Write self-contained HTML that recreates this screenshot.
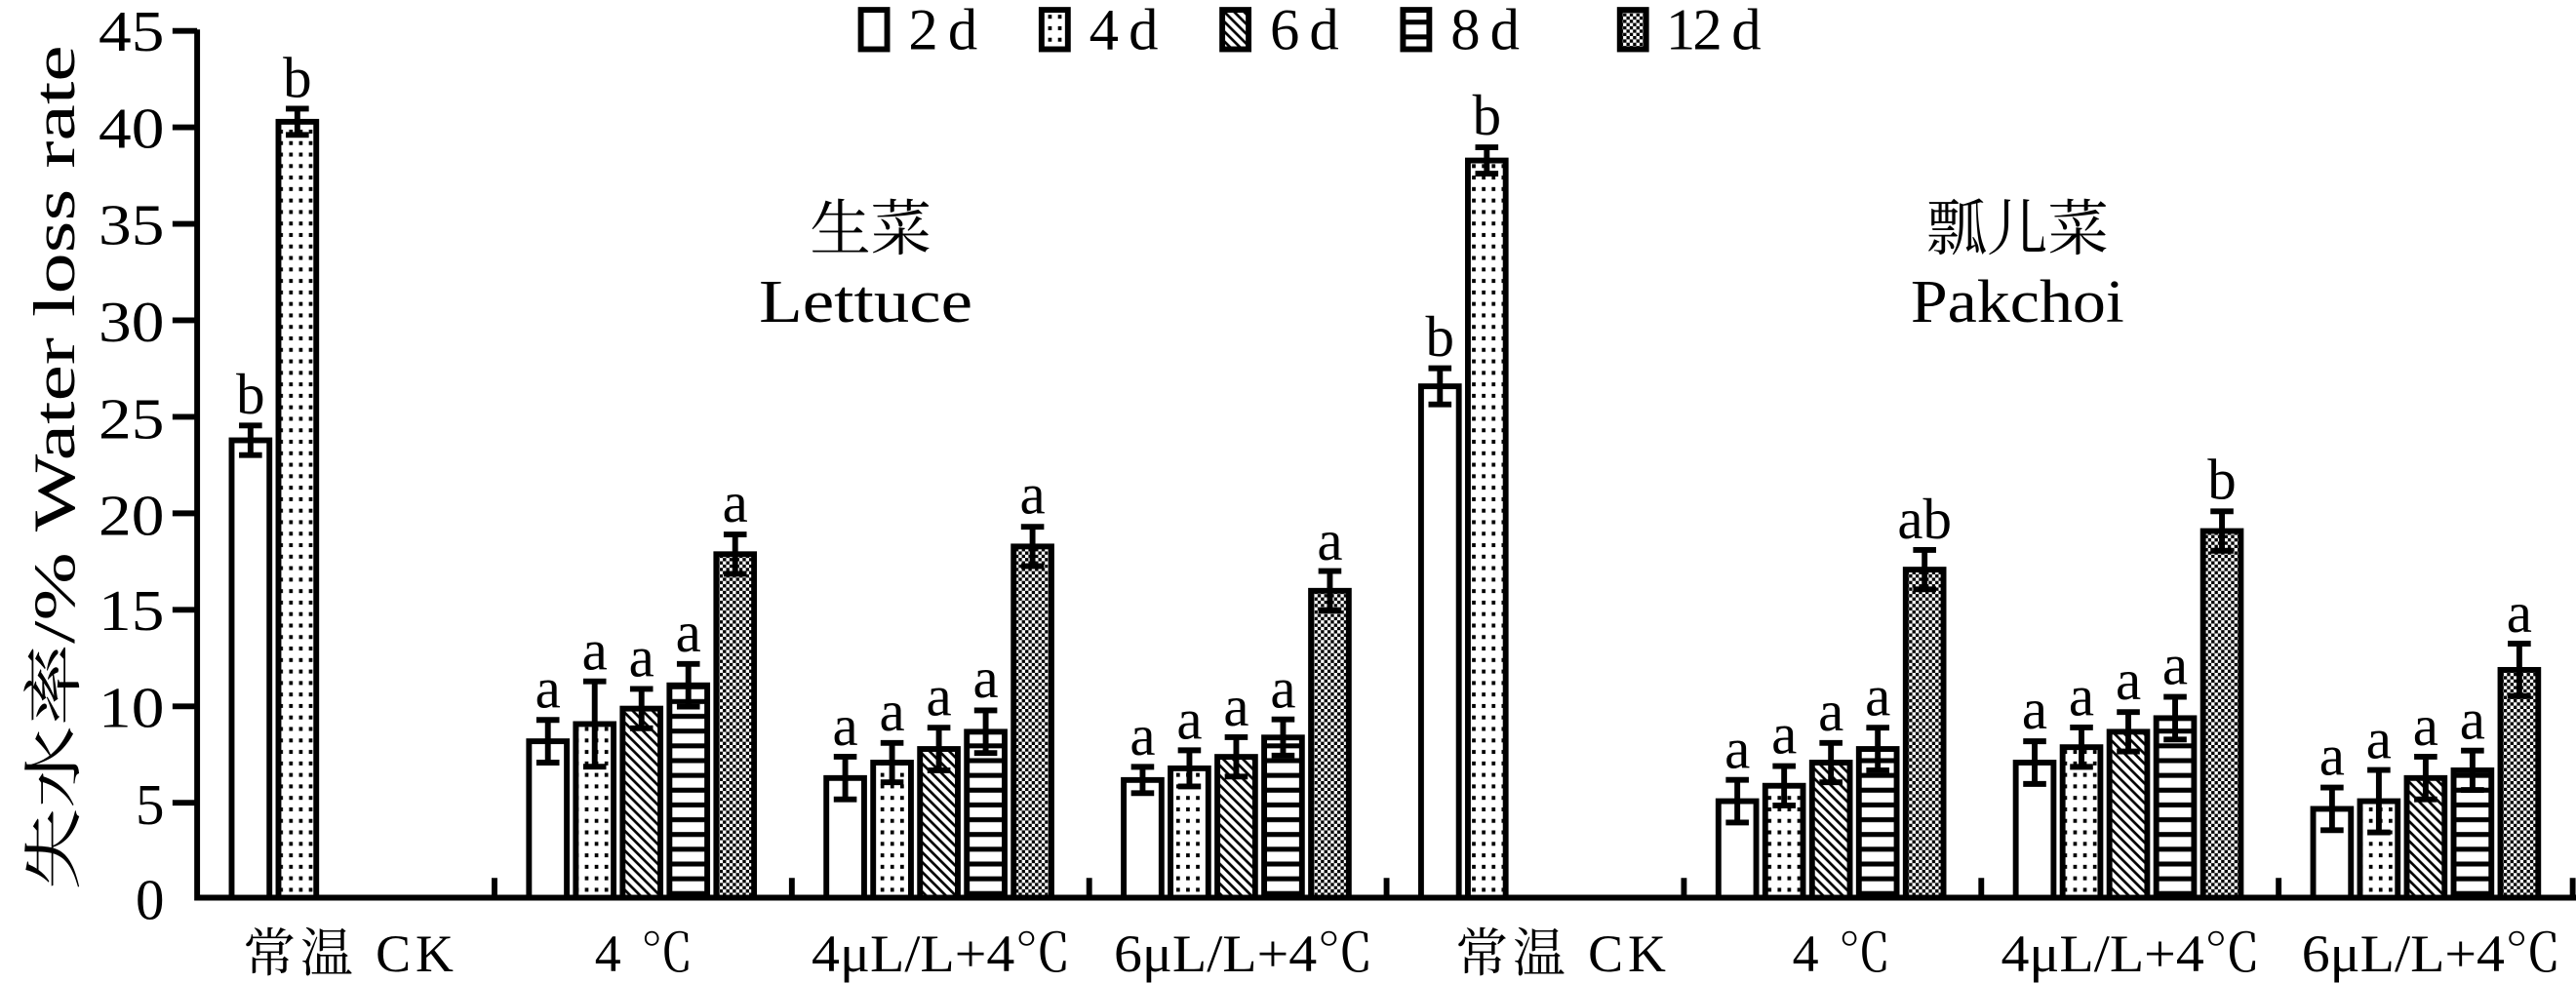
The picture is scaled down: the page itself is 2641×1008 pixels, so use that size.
<!DOCTYPE html>
<html><head><meta charset="utf-8"><style>
html,body{margin:0;padding:0;background:#fff;width:2641px;height:1008px;overflow:hidden}
svg{display:block}
text{font-family:"Liberation Serif","Noto Serif CJK SC","Noto Sans CJK SC",serif;fill:#000}
</style></head><body>
<svg width="2641" height="1008" viewBox="0 0 1568 599" preserveAspectRatio="none" xmlns="http://www.w3.org/2000/svg">
<defs>
<pattern id="dot" width="6" height="7" patternUnits="userSpaceOnUse"><rect width="6" height="7" fill="#fff"/><rect x="2" y="2" width="2.2" height="2.4" fill="#000"/></pattern>
<pattern id="dia" width="6" height="6" patternUnits="userSpaceOnUse"><rect width="6" height="6" fill="#fff"/><path d="M-1,-1L7,7M-1,5L1,7M5,-1L7,1" stroke="#000" stroke-width="1.6"/></pattern>
<pattern id="hor" width="23" height="9" patternUnits="userSpaceOnUse"><rect width="23" height="9" fill="#fff"/><rect y="3" width="23" height="3" fill="#000"/></pattern>
<pattern id="chk" width="4" height="4" patternUnits="userSpaceOnUse"><rect width="4" height="4" fill="#fff"/><rect width="2" height="2" fill="#000"/><rect x="2" y="2" width="2" height="2" fill="#000"/></pattern>
</defs>

<g stroke="#000" stroke-width="3.5" fill="none">
<path d="M120,18V547H1568"/>
<path d="M105,18.8H120M105,77.6H120M105,136.4H120M105,195.2H120M105,254H120M105,312.8H120M105,371.6H120M105,430.4H120M105,489.2H120"/>
<path d="M301,547V535M482,547V535M663,547V535M844,547V535M1025,547V535M1206,547V535M1387,547V535M1566,547V535"/>
</g>
<g font-size="35" text-anchor="end">
<text x="100" y="31" textLength="40" lengthAdjust="spacingAndGlyphs">45</text><text x="100" y="90" textLength="40" lengthAdjust="spacingAndGlyphs">40</text><text x="100" y="149" textLength="40" lengthAdjust="spacingAndGlyphs">35</text><text x="100" y="208" textLength="40" lengthAdjust="spacingAndGlyphs">30</text><text x="100" y="267" textLength="40" lengthAdjust="spacingAndGlyphs">25</text><text x="100" y="326" textLength="40" lengthAdjust="spacingAndGlyphs">20</text><text x="100" y="384" textLength="40" lengthAdjust="spacingAndGlyphs">15</text><text x="100" y="443" textLength="40" lengthAdjust="spacingAndGlyphs">10</text><text x="100" y="502">5</text><text x="100" y="560">0</text>
</g>
<text transform="translate(45,285) rotate(-90)" font-size="36" text-anchor="middle" textLength="515" lengthAdjust="spacingAndGlyphs">失水率/%   Water loss rate</text>

<g stroke="#000" stroke-width="3.5">
<rect x="524" y="6" width="16" height="24" fill="#fff"/>
<rect x="634" y="6" width="16" height="24" fill="url(#dot)"/>
<rect x="744" y="6" width="16" height="24" fill="url(#dia)"/>
<rect x="854" y="6" width="16" height="24" fill="url(#hor)"/>
<rect x="986" y="6" width="16" height="24" fill="url(#chk)"/>
</g>
<g font-size="36">
<text x="553" y="30" textLength="42" lengthAdjust="spacing">2 d</text><text x="663" y="30" textLength="42" lengthAdjust="spacing">4 d</text><text x="773" y="30" textLength="42" lengthAdjust="spacing">6 d</text><text x="883" y="30" textLength="42" lengthAdjust="spacing">8 d</text><text x="1014" y="30" textLength="58" lengthAdjust="spacing">12 d</text>
</g>

<g font-size="37" text-anchor="middle">
<text x="530" y="152">生菜</text><text x="527" y="196" textLength="130" lengthAdjust="spacingAndGlyphs">Lettuce</text>
<text x="1228" y="152">瓢儿菜</text><text x="1228" y="196" textLength="130" lengthAdjust="spacingAndGlyphs">Pakchoi</text>
</g>

<g stroke="#000" stroke-width="3.5">
<rect x="141" y="268.3" width="23" height="278.7" fill="#fff"/>
<rect x="169.5" y="74.2" width="23" height="472.8" fill="url(#dot)"/>
<rect x="322" y="451.7" width="23" height="95.3" fill="#fff"/>
<rect x="350.5" y="441.2" width="23" height="105.8" fill="url(#dot)"/>
<rect x="379" y="431.8" width="23" height="115.2" fill="url(#dia)"/>
<rect x="407.5" y="417.6" width="23" height="129.4" fill="url(#hor)"/>
<rect x="436" y="337.7" width="23" height="209.3" fill="url(#chk)"/>
<rect x="503" y="474.1" width="23" height="72.9" fill="#fff"/>
<rect x="531.5" y="464.7" width="23" height="82.3" fill="url(#dot)"/>
<rect x="560" y="456.4" width="23" height="90.6" fill="url(#dia)"/>
<rect x="588.5" y="445.9" width="23" height="101.1" fill="url(#hor)"/>
<rect x="617" y="333" width="23" height="214" fill="url(#chk)"/>
<rect x="684" y="475.3" width="23" height="71.7" fill="#fff"/>
<rect x="712.5" y="468.2" width="23" height="78.8" fill="url(#dot)"/>
<rect x="741" y="461.2" width="23" height="85.8" fill="url(#dia)"/>
<rect x="769.5" y="449.4" width="23" height="97.6" fill="url(#hor)"/>
<rect x="798" y="360" width="23" height="187" fill="url(#chk)"/>
<rect x="865" y="235.4" width="23" height="311.6" fill="#fff"/>
<rect x="893.5" y="97.8" width="23" height="449.2" fill="url(#dot)"/>
<rect x="1046" y="488.2" width="23" height="58.8" fill="#fff"/>
<rect x="1074.5" y="478.8" width="23" height="68.2" fill="url(#dot)"/>
<rect x="1103" y="464.7" width="23" height="82.3" fill="url(#dia)"/>
<rect x="1131.5" y="456.4" width="23" height="90.6" fill="url(#hor)"/>
<rect x="1160" y="347.1" width="23" height="199.9" fill="url(#chk)"/>
<rect x="1227" y="464.7" width="23" height="82.3" fill="#fff"/>
<rect x="1255.5" y="455.3" width="23" height="91.7" fill="url(#dot)"/>
<rect x="1284" y="445.9" width="23" height="101.1" fill="url(#dia)"/>
<rect x="1312.5" y="437.6" width="23" height="109.4" fill="url(#hor)"/>
<rect x="1341" y="323.6" width="23" height="223.4" fill="url(#chk)"/>
<rect x="1408" y="492.9" width="23" height="54.1" fill="#fff"/>
<rect x="1436.5" y="488.2" width="23" height="58.8" fill="url(#dot)"/>
<rect x="1465" y="474.1" width="23" height="72.9" fill="url(#dia)"/>
<rect x="1493.5" y="469.4" width="23" height="77.6" fill="url(#hor)"/>
<rect x="1522" y="408.2" width="23" height="138.8" fill="url(#chk)"/>
</g>

<g stroke="#000" stroke-width="3.5" fill="none">
<path d="M152.5,259.3V277.3M145.5,259.3h14M145.5,277.3h14"/>
<path d="M181,66.2V82.2M174,66.2h14M174,82.2h14"/>
<path d="M333.5,438.7V464.7M326.5,438.7h14M326.5,464.7h14"/>
<path d="M362,415.2V467.2M355,415.2h14M355,467.2h14"/>
<path d="M390.5,419.8V443.8M383.5,419.8h14M383.5,443.8h14"/>
<path d="M419,404.6V430.6M412,404.6h14M412,430.6h14"/>
<path d="M447.5,325.7V349.7M440.5,325.7h14M440.5,349.7h14"/>
<path d="M514.5,461.1V487.1M507.5,461.1h14M507.5,487.1h14"/>
<path d="M543,452.7V476.7M536,452.7h14M536,476.7h14"/>
<path d="M571.5,443.4V469.4M564.5,443.4h14M564.5,469.4h14"/>
<path d="M600,432.9V458.9M593,432.9h14M593,458.9h14"/>
<path d="M628.5,321V345M621.5,321h14M621.5,345h14"/>
<path d="M695.5,467.3V483.3M688.5,467.3h14M688.5,483.3h14"/>
<path d="M724,457.2V479.2M717,457.2h14M717,479.2h14"/>
<path d="M752.5,449.2V473.2M745.5,449.2h14M745.5,473.2h14"/>
<path d="M781,438.4V460.4M774,438.4h14M774,460.4h14"/>
<path d="M809.5,348V372M802.5,348h14M802.5,372h14"/>
<path d="M876.5,224.4V246.4M869.5,224.4h14M869.5,246.4h14"/>
<path d="M905,89.8V105.8M898,89.8h14M898,105.8h14"/>
<path d="M1057.5,475.2V501.2M1050.5,475.2h14M1050.5,501.2h14"/>
<path d="M1086,466.8V490.8M1079,466.8h14M1079,490.8h14"/>
<path d="M1114.5,452.7V476.7M1107.5,452.7h14M1107.5,476.7h14"/>
<path d="M1143,443.4V469.4M1136,443.4h14M1136,469.4h14"/>
<path d="M1171.5,335.1V359.1M1164.5,335.1h14M1164.5,359.1h14"/>
<path d="M1238.5,451.7V477.7M1231.5,451.7h14M1231.5,477.7h14"/>
<path d="M1267,443.3V467.3M1260,443.3h14M1260,467.3h14"/>
<path d="M1295.5,433.9V457.9M1288.5,433.9h14M1288.5,457.9h14"/>
<path d="M1324,424.6V450.6M1317,424.6h14M1317,450.6h14"/>
<path d="M1352.5,311.6V335.6M1345.5,311.6h14M1345.5,335.6h14"/>
<path d="M1419.5,479.9V505.9M1412.5,479.9h14M1412.5,505.9h14"/>
<path d="M1448,469.2V507.2M1441,469.2h14M1441,507.2h14"/>
<path d="M1476.5,461.1V487.1M1469.5,461.1h14M1469.5,487.1h14"/>
<path d="M1505,457.4V481.4M1498,457.4h14M1498,481.4h14"/>
<path d="M1533.5,392.2V424.2M1526.5,392.2h14M1526.5,424.2h14"/>
</g>

<g font-size="35" text-anchor="middle">
<text x="152.5" y="252">b</text><text x="181" y="59">b</text>
<text x="333.5" y="431">a</text><text x="362" y="408">a</text><text x="390.5" y="412">a</text><text x="419" y="397">a</text><text x="447.5" y="318">a</text>
<text x="514.5" y="454">a</text><text x="543" y="445">a</text><text x="571.5" y="436">a</text><text x="600" y="425">a</text><text x="628.5" y="313">a</text>
<text x="695.5" y="460">a</text><text x="724" y="450">a</text><text x="752.5" y="442">a</text><text x="781" y="431">a</text><text x="809.5" y="341">a</text>
<text x="876.5" y="217">b</text><text x="905" y="82">b</text>
<text x="1057.5" y="468">a</text><text x="1086" y="459">a</text><text x="1114.5" y="445">a</text><text x="1143" y="436">a</text><text x="1171.5" y="328">ab</text>
<text x="1238.5" y="444">a</text><text x="1267" y="436">a</text><text x="1295.5" y="426">a</text><text x="1324" y="417">a</text><text x="1352.5" y="304">b</text>
<text x="1419.5" y="472">a</text><text x="1448" y="462">a</text><text x="1476.5" y="454">a</text><text x="1505" y="450">a</text><text x="1533.5" y="385">a</text>
</g>

<g font-size="32" text-anchor="middle">
<text x="212" y="592" textLength="128" lengthAdjust="spacing">常温  CK</text>
<text x="392" y="592" textLength="60" lengthAdjust="spacing">4 ℃</text>
<text x="573" y="592" textLength="158" lengthAdjust="spacingAndGlyphs">4μL/L+4℃</text>
<text x="757" y="592" textLength="158" lengthAdjust="spacingAndGlyphs">6μL/L+4℃</text>
<text x="950" y="592" textLength="128" lengthAdjust="spacing">常温  CK</text>
<text x="1121" y="592" textLength="60" lengthAdjust="spacing">4 ℃</text>
<text x="1297" y="592" textLength="158" lengthAdjust="spacingAndGlyphs">4μL/L+4℃</text>
<text x="1480" y="592" textLength="158" lengthAdjust="spacingAndGlyphs">6μL/L+4℃</text>
</g>
</svg>
</body></html>
